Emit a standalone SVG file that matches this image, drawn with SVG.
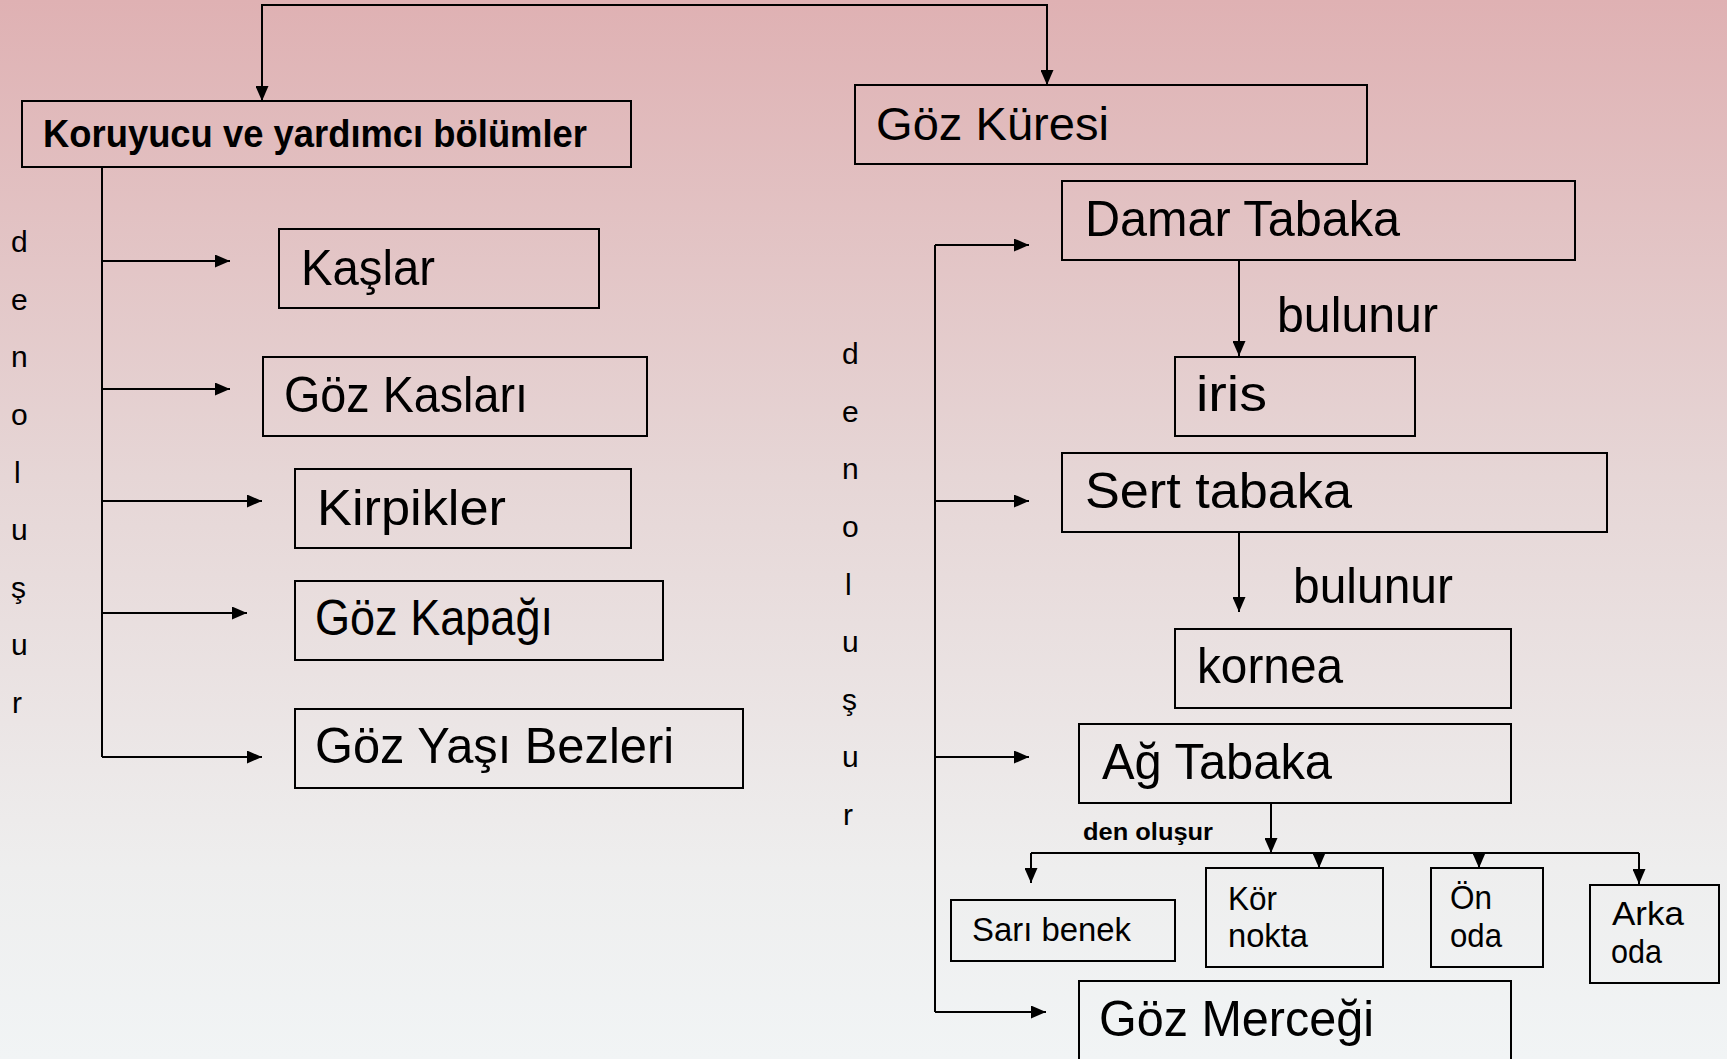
<svg xmlns="http://www.w3.org/2000/svg" width="1727" height="1059" viewBox="0 0 1727 1059">
<style>
.box{fill:none;stroke:#000;stroke-width:2}
.ln{fill:none;stroke:#000;stroke-width:2}
.t{font-family:"Liberation Sans",Arial,sans-serif;fill:#000}
.big{font-size:50px}
.mid{font-size:47px}
.sm{font-size:33px}
.lt{font-size:30px}
.b{font-weight:bold}
</style>
<defs>
<linearGradient id="bg" x1="0" y1="0" x2="0" y2="1">
<stop offset="0" stop-color="#dfb1b3"/>
<stop offset="0.45" stop-color="#e6d6d6"/>
<stop offset="0.82" stop-color="#eeeeee"/>
<stop offset="1" stop-color="#f1f4f5"/>
</linearGradient>
<marker id="ar" markerUnits="userSpaceOnUse" markerWidth="15" markerHeight="13" refX="15" refY="6.5" orient="auto">
<path d="M0,0 L15,6.5 L0,13 z" fill="#000"/>
</marker>
</defs>
<rect x="0" y="0" width="1727" height="1059" fill="url(#bg)"/>

<g id="connectors">
<path class="ln" d="M655,5 H262 V101" marker-end="url(#ar)"/>
<path class="ln" d="M655,5 H1047 V85" marker-end="url(#ar)"/>
<path class="ln" d="M102,167 V757"/>
<path class="ln" d="M102,261 H230" marker-end="url(#ar)"/>
<path class="ln" d="M102,389 H230" marker-end="url(#ar)"/>
<path class="ln" d="M102,501 H262" marker-end="url(#ar)"/>
<path class="ln" d="M102,613 H247" marker-end="url(#ar)"/>
<path class="ln" d="M102,757 H262" marker-end="url(#ar)"/>
<path class="ln" d="M935,245 V1012"/>
<path class="ln" d="M935,245 H1029" marker-end="url(#ar)"/>
<path class="ln" d="M935,501 H1029" marker-end="url(#ar)"/>
<path class="ln" d="M935,757 H1029" marker-end="url(#ar)"/>
<path class="ln" d="M935,1012 H1046" marker-end="url(#ar)"/>
<path class="ln" d="M1239,260 V356" marker-end="url(#ar)"/>
<path class="ln" d="M1239,532 V612" marker-end="url(#ar)"/>
<path class="ln" d="M1271,803 V853" marker-end="url(#ar)"/>
<path class="ln" d="M1031,853 H1639"/>
<path class="ln" d="M1031,853 V883" marker-end="url(#ar)"/>
<path class="ln" d="M1319,853 V868" marker-end="url(#ar)"/>
<path class="ln" d="M1479,853 V868" marker-end="url(#ar)"/>
<path class="ln" d="M1639,853 V884" marker-end="url(#ar)"/>
<text class="t big" x="1277" y="332" textLength="161" lengthAdjust="spacingAndGlyphs">bulunur</text>
<text class="t big" x="1293" y="603" textLength="160" lengthAdjust="spacingAndGlyphs">bulunur</text>
<text class="t b" font-size="23" x="1083" y="840" textLength="130" lengthAdjust="spacingAndGlyphs">den oluşur</text>
</g>

<g id="label-left">
<text class="t lt" x="11" y="252">d</text>
<text class="t lt" x="11" y="310">e</text>
<text class="t lt" x="11" y="367">n</text>
<text class="t lt" x="11" y="425">o</text>
<text class="t lt" x="14" y="483">l</text>
<text class="t lt" x="11" y="540">u</text>
<text class="t lt" x="11" y="598">ş</text>
<text class="t lt" x="11" y="655">u</text>
<text class="t lt" x="12" y="713">r</text>
</g>
<g id="label-right">
<text class="t lt" x="842" y="364">d</text>
<text class="t lt" x="842" y="422">e</text>
<text class="t lt" x="842" y="479">n</text>
<text class="t lt" x="842" y="537">o</text>
<text class="t lt" x="845" y="595">l</text>
<text class="t lt" x="842" y="652">u</text>
<text class="t lt" x="842" y="710">ş</text>
<text class="t lt" x="842" y="767">u</text>
<text class="t lt" x="843" y="825">r</text>
</g>

<g id="koruyucu">
<rect class="box" x="22" y="101" width="609" height="66"/>
<text class="t b" font-size="39" x="43" y="147" textLength="544" lengthAdjust="spacingAndGlyphs">Koruyucu ve yardımcı bölümler</text>
</g>
<g id="kaslar">
<rect class="box" x="279" y="229" width="320" height="79"/>
<text class="t big" x="301" y="285" textLength="134" lengthAdjust="spacingAndGlyphs">Kaşlar</text>
</g>
<g id="goz-kaslari">
<rect class="box" x="263" y="357" width="384" height="79"/>
<text class="t big" x="284" y="412" textLength="244" lengthAdjust="spacingAndGlyphs">Göz Kasları</text>
</g>
<g id="kirpikler">
<rect class="box" x="295" y="469" width="336" height="79"/>
<text class="t big" x="317" y="525" textLength="189" lengthAdjust="spacingAndGlyphs">Kirpikler</text>
</g>
<g id="goz-kapagi">
<rect class="box" x="295" y="581" width="368" height="79"/>
<text class="t big" x="315" y="635" textLength="238" lengthAdjust="spacingAndGlyphs">Göz Kapağı</text>
</g>
<g id="goz-yasi-bezleri">
<rect class="box" x="295" y="709" width="448" height="79"/>
<text class="t big" x="315" y="763" textLength="359" lengthAdjust="spacingAndGlyphs">Göz Yaşı Bezleri</text>
</g>

<g id="goz-kuresi">
<rect class="box" x="855" y="85" width="512" height="79"/>
<text class="t mid" x="876" y="140" textLength="233" lengthAdjust="spacingAndGlyphs">Göz Küresi</text>
</g>
<g id="damar-tabaka">
<rect class="box" x="1062" y="181" width="513" height="79"/>
<text class="t big" x="1085" y="236" textLength="315" lengthAdjust="spacingAndGlyphs">Damar Tabaka</text>
</g>
<g id="iris">
<rect class="box" x="1175" y="357" width="240" height="79"/>
<text class="t big" x="1196" y="411" textLength="71" lengthAdjust="spacingAndGlyphs">iris</text>
</g>
<g id="sert-tabaka">
<rect class="box" x="1062" y="453" width="545" height="79"/>
<text class="t big" x="1085" y="508" textLength="267" lengthAdjust="spacingAndGlyphs">Sert tabaka</text>
</g>
<g id="kornea">
<rect class="box" x="1175" y="629" width="336" height="79"/>
<text class="t big" x="1197" y="683" textLength="146" lengthAdjust="spacingAndGlyphs">kornea</text>
</g>
<g id="ag-tabaka">
<rect class="box" x="1079" y="724" width="432" height="79"/>
<text class="t big" x="1102" y="779" textLength="230" lengthAdjust="spacingAndGlyphs">Ağ Tabaka</text>
</g>
<g id="sari-benek">
<rect class="box" x="951" y="900" width="224" height="61"/>
<text class="t sm" x="972" y="941" textLength="159" lengthAdjust="spacingAndGlyphs">Sarı benek</text>
</g>
<g id="kor-nokta">
<rect class="box" x="1206" y="868" width="177" height="99"/>
<text class="t sm" x="1228" y="910" textLength="49" lengthAdjust="spacingAndGlyphs">Kör</text>
<text class="t sm" x="1228" y="947" textLength="80" lengthAdjust="spacingAndGlyphs">nokta</text>
</g>
<g id="on-oda">
<rect class="box" x="1431" y="868" width="112" height="99"/>
<text class="t sm" x="1450" y="909" textLength="42" lengthAdjust="spacingAndGlyphs">Ön</text>
<text class="t sm" x="1450" y="947" textLength="52" lengthAdjust="spacingAndGlyphs">oda</text>
</g>
<g id="arka-oda">
<rect class="box" x="1590" y="885" width="129" height="98"/>
<text class="t sm" x="1612" y="925" textLength="72" lengthAdjust="spacingAndGlyphs">Arka</text>
<text class="t sm" x="1611" y="963" textLength="51" lengthAdjust="spacingAndGlyphs">oda</text>
</g>
<g id="goz-mercegi">
<rect class="box" x="1079" y="981" width="432" height="90"/>
<text class="t big" x="1099" y="1036" textLength="275" lengthAdjust="spacingAndGlyphs">Göz Merceği</text>
</g>
</svg>
